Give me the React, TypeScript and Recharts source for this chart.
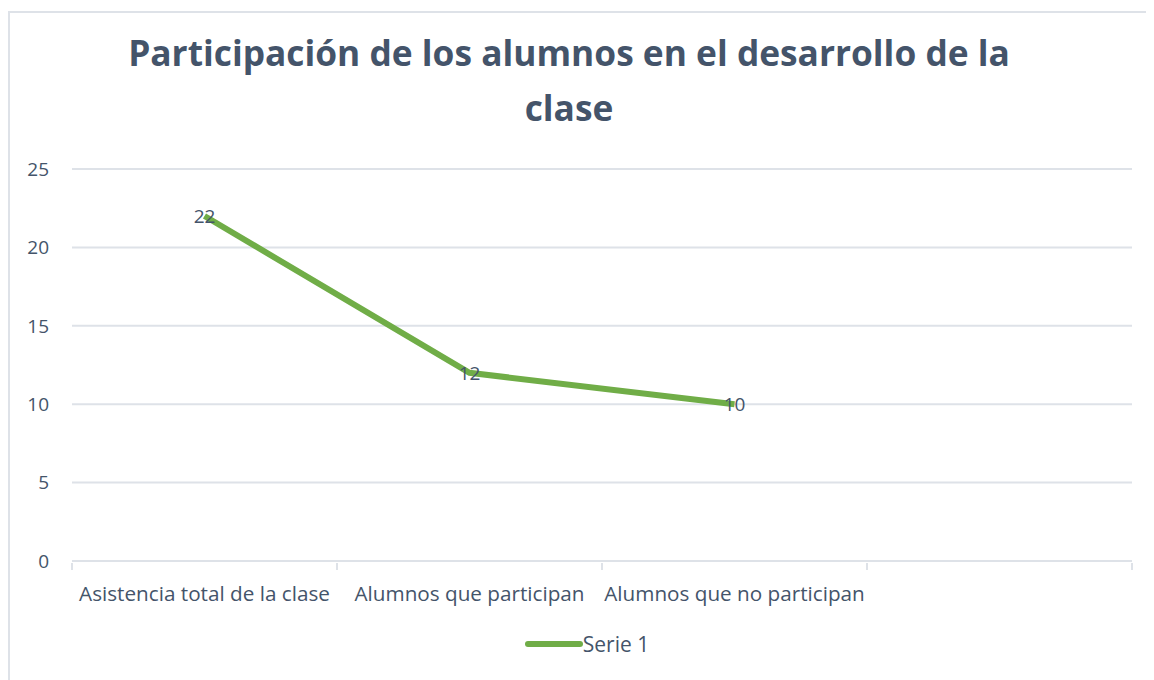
import { LineChart, Line, XAxis, YAxis, CartesianGrid, Legend, LabelList } from 'recharts';

const categories = ['Asistencia total de la clase', 'Alumnos que participan', 'Alumnos que no participan', ''];
const serie1 = [22, 12, 10, null];
const yTicks = [0, 5, 10, 15, 20, 25];

const data = categories.map((name, i) => ({ name, serie1: serie1[i] }));

const textColor = '#44546A';
const gridColor = '#DEE2E8';
const lineColor = '#70AD47';
const font = '"Open Sans", Lato, sans-serif';

function CategoryTick(props: any) {
  const { x, y, payload, index } = props;
  const half = payload && payload.offset ? payload.offset : 132.5;
  const last = index === categories.length - 1;
  return (
    <g>
      <line x1={x - half} x2={x - half} y1={y} y2={y + 7} stroke={gridColor} strokeWidth={2} />
      {last && <line x1={x + half} x2={x + half} y1={y} y2={y + 7} stroke={gridColor} strokeWidth={2} />}
      <text x={x} y={y + 30} textAnchor="middle" dominantBaseline="central" fill={textColor} fontSize={20.7} fontFamily={font}>
        {payload.value}
      </text>
    </g>
  );
}

function LegendContent() {
  return (
    <div style={{ display: 'flex', justifyContent: 'center', alignItems: 'center', paddingLeft: 32, fontFamily: font, fontSize: 21, color: textColor }}>
      <svg width={58} height={10}>
        <line x1={3} x2={55} y1={5} y2={5} stroke={lineColor} strokeWidth={6} strokeLinecap="round" />
      </svg>
      <span>Serie 1</span>
    </div>
  );
}

export default function App() {
  return (
    <div style={{ position: 'relative', marginTop: 3, width: 1146, height: 669, borderLeft: `2px solid ${gridColor}`, borderTop: `2px solid ${gridColor}`, background: '#fff' }}>
      <div style={{ position: 'absolute', left: 0, top: 12, width: 1118, textAlign: 'center', fontFamily: font, fontWeight: 700, fontSize: 35.3, lineHeight: '55px', color: textColor }}>
        Participación de los alumnos en el desarrollo de la<br />clase
      </div>
      <LineChart width={1144} height={667} data={data} margin={{ top: 156, right: 22, left: 0, bottom: 26 }}>
        <CartesianGrid horizontal vertical={false} stroke={gridColor} strokeWidth={2} />
        <XAxis dataKey="name" scale="band" axisLine={{ stroke: gridColor, strokeWidth: 2 }} tickLine={false} tickSize={0} tick={<CategoryTick />} interval={0} height={69} />
        <YAxis domain={[0, 25]} ticks={yTicks} axisLine={false} tickLine={false} tickSize={0} tickMargin={23} width={62} tick={{ fill: textColor, fontSize: 19, fontFamily: font }} />
        <Legend verticalAlign="bottom" height={24} content={<LegendContent />} />
        <Line type="linear" dataKey="serie1" stroke={lineColor} strokeWidth={6} dot={false} activeDot={false} isAnimationActive={false}>
          <LabelList dataKey="serie1" position="center" fill={textColor} fontSize={19} fontFamily={font} />
        </Line>
      </LineChart>
    </div>
  );
}
